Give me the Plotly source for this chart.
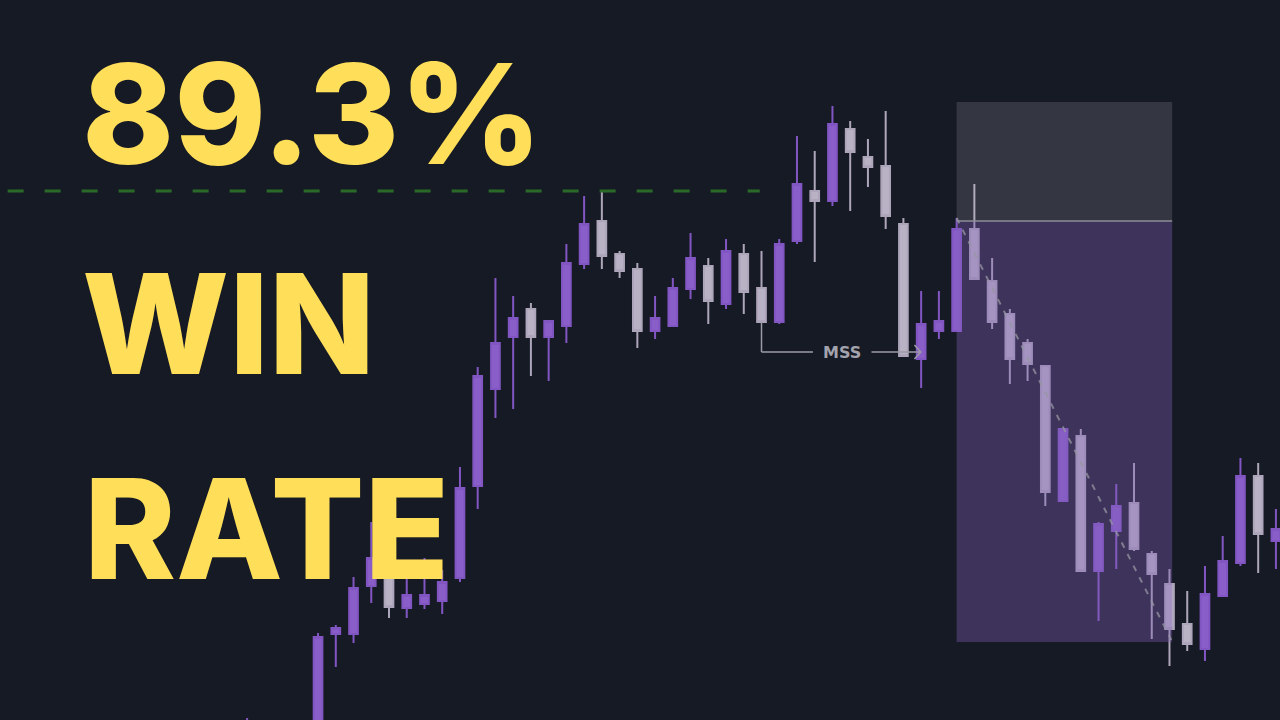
import plotly.graph_objects as go

# ---- data (candle index, OHLC) ----
idx = [-4, 0, 1, 2, 3, 4, 5, 6, 7, 8, 9, 10, 11, 12, 13, 14, 15, 16, 17, 18, 19,
       20, 21, 22, 23, 24, 25, 26, 27, 28, 29, 30, 31, 32, 33, 34, 35, 36, 37, 38,
       39, 40, 41, 42, 43, 44, 45, 46, 47, 48, 49, 50, 51, 52, 53, 54]
open_ = [-50, -40, 86, 86, 134, 145, 112, 116, 119, 142, 234, 331, 383, 411, 383, 394, 456, 499, 466, 451, 389,
         394, 431, 454, 416, 466, 432, 398, 479, 529, 519, 591, 563, 554, 496, 361, 389, 389, 491, 439,
         406, 377, 354, 219, 284, 149, 189, 217, 166, 136, 96, 71, 124, 157, 244, 179]
high = [2, 87, 95, 143, 198, 165, 145, 162, 150, 253, 353, 442, 424, 417, 399, 476, 524, 529, 469, 457, 424,
        442, 487, 462, 481, 476, 469, 481, 584, 569, 614, 599, 581, 609, 502, 429, 429, 502, 536, 462,
        411, 381, 354, 291, 291, 198, 236, 257, 169, 151, 129, 154, 184, 262, 257, 211]
low = [-65, -55, 53, 77, 117, 102, 102, 111, 106, 138, 211, 302, 311, 344, 339, 377, 451, 451, 442, 372, 381,
       394, 421, 396, 411, 406, 398, 396, 476, 458, 514, 509, 533, 491, 364, 332, 381, 389, 441, 391,
       336, 339, 214, 219, 149, 99, 151, 169, 81, 54, 69, 59, 124, 154, 147, 151]
close = [-10, 83, 92, 132, 162, 113, 125, 125, 138, 232, 344, 377, 402, 383, 399, 457, 496, 464, 449, 389, 402,
         432, 462, 419, 469, 428, 398, 476, 536, 519, 596, 568, 553, 504, 364, 396, 399, 491, 441, 398,
         361, 356, 228, 291, 149, 196, 214, 171, 146, 91, 76, 126, 159, 244, 186, 191]

headline = ["89.3%", "WIN", "RATE"]
mss_label = "MSS"

BG = "#161a25"
PURPLE = "#8a5ec9"
GREY = "#b9b1c4"
YELLOW = "#FFDE59"

fig = go.Figure()
fig.add_trace(go.Candlestick(
    x=idx, open=open_, high=high, low=low, close=close,
    increasing=dict(line=dict(color="#8256c2", width=2), fillcolor=PURPLE),
    decreasing=dict(line=dict(color="#ada5b9", width=2), fillcolor=GREY),
    whiskerwidth=0, hoverinfo="skip", showlegend=False,
))

# key levels derived from data
swing_high = high[idx.index(16)]
mss_start = 25
mss_end = 34
mss_y = low[idx.index(33)] + 4
box_x0 = 36
box_x1 = 48.15
entry = high[idx.index(36)] - 3
stop = 618
target = 78

shapes = [
    dict(type="line", xref="x", yref="y", x0=-17.5, x1=24.9, y0=swing_high, y1=swing_high,
         line=dict(color="#2a6a28", width=3, dash="16px,21px"), layer="above"),
    dict(type="rect", xref="x", yref="y", x0=box_x0, x1=box_x1, y0=entry, y1=stop,
         fillcolor="rgba(200,200,212,0.17)", line=dict(width=0), layer="above"),
    dict(type="rect", xref="x", yref="y", x0=box_x0, x1=box_x1, y0=target, y1=entry,
         fillcolor="rgba(131,96,188,0.36)", line=dict(width=0), layer="above"),
    dict(type="line", xref="x", yref="y", x0=box_x0, x1=box_x1, y0=entry, y1=entry,
         line=dict(color="#8e8e99", width=1.5), layer="above"),
    dict(type="line", xref="x", yref="y", x0=box_x0, x1=box_x1 - 0.05, y0=entry + 3, y1=target + 2,
         line=dict(color="rgba(150,150,162,0.75)", width=2, dash="6px,7px"), layer="above"),
    dict(type="line", xref="x", yref="y", x0=mss_start, x1=mss_start,
         y0=close[idx.index(25)], y1=mss_y, line=dict(color="#9c9ca6", width=1.5), layer="above"),
    dict(type="line", xref="x", yref="y", x0=mss_start, x1=27.9, y0=mss_y, y1=mss_y,
         line=dict(color="#9c9ca6", width=1.5), layer="above"),
    dict(type="line", xref="x", yref="y", x0=31.2, x1=mss_end - 0.05, y0=mss_y, y1=mss_y,
         line=dict(color="#9c9ca6", width=1.5), layer="above"),
    dict(type="path", xref="x", yref="y",
         path=f"M {mss_end-0.38} {mss_y+7} L {mss_end-0.02} {mss_y} L {mss_end-0.38} {mss_y-7}",
         line=dict(color="#9c9ca6", width=1.5), layer="above"),
]

annotations = [
    dict(text=f"<b>{mss_label}</b>", x=29.55, y=mss_y, xref="x", yref="y", showarrow=False,
         font=dict(family="DejaVu Sans", size=16, color="#a3a3ad"), xanchor="center", yanchor="middle"),
    dict(text=headline[0], x=80, y=113, showarrow=False),
    dict(text=headline[1], x=80, y=323, showarrow=False),
    dict(text=headline[2], x=82, y=528, showarrow=False),
]
for a in annotations[1:]:
    a.update(xref="paper", yref="paper", x=a["x"] / 1280, y=1 - a["y"] / 720,
             xanchor="left", yanchor="middle",
             font=dict(family="Inter", size=139, color=YELLOW, weight=800))

fig.update_layout(
    width=1280, height=720,
    margin=dict(l=0, r=0, t=0, b=0),
    paper_bgcolor=BG, plot_bgcolor=BG,
    xaxis=dict(range=[-17.93, 54.23], visible=False, rangeslider=dict(visible=False),
               fixedrange=True),
    yaxis=dict(range=[0, 720], visible=False, fixedrange=True),
    shapes=shapes, annotations=annotations,
    hovermode=False,
)

fig.write_html("out.html", config={"displayModeBar": False},
               post_script="document.body.style.margin='0';document.body.style.background='#161a25';")
